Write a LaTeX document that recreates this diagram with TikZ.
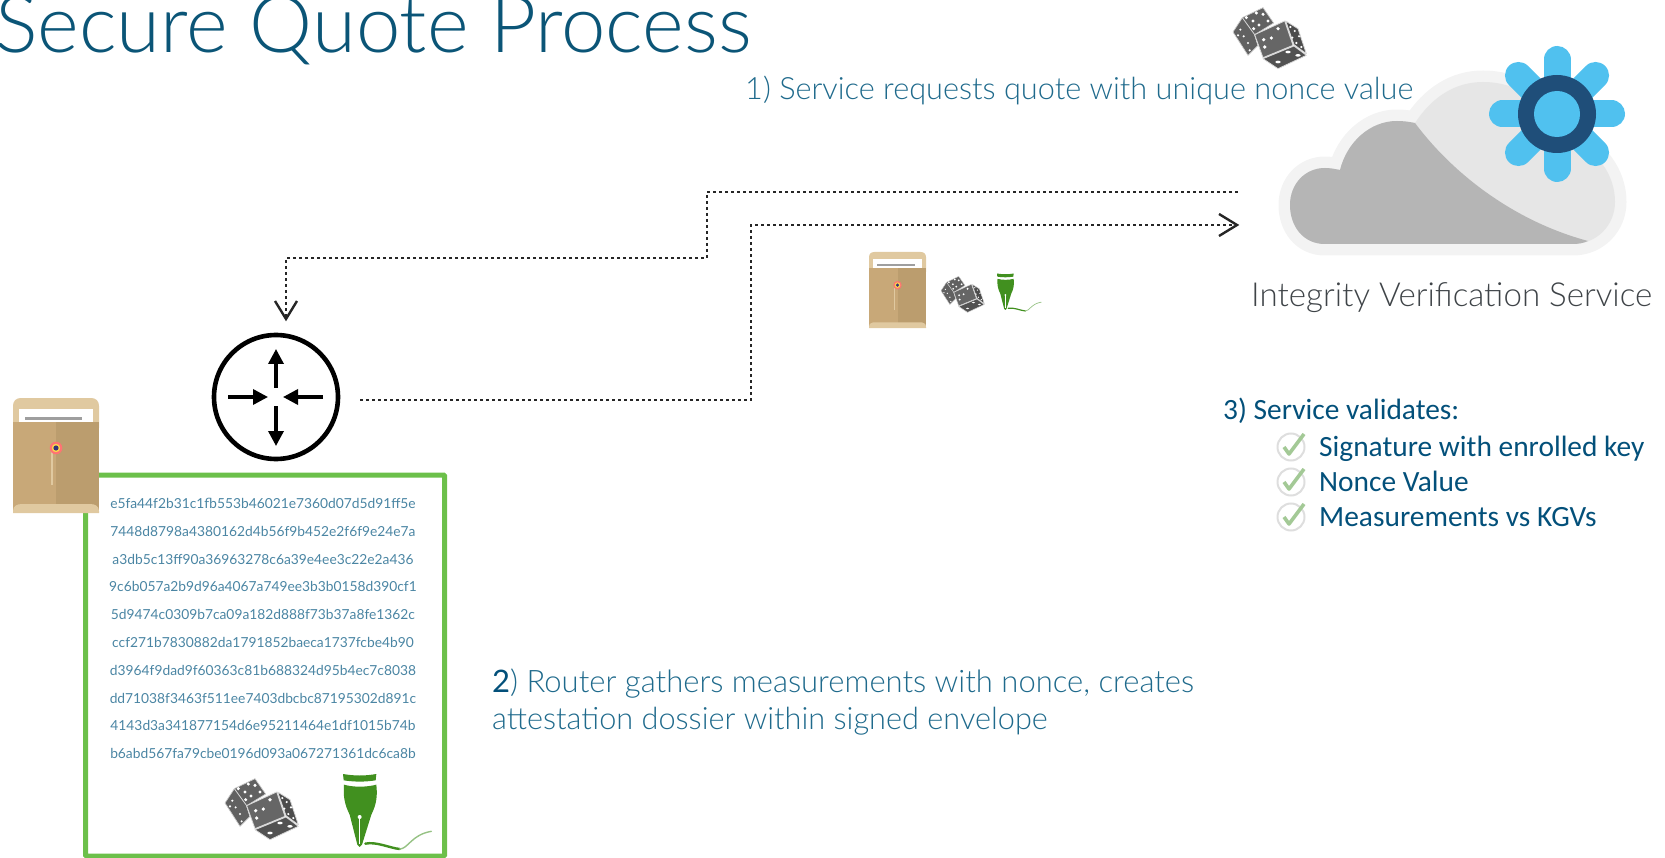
\documentclass[tikz,border=0pt]{standalone}
\usepackage{fontspec}
\usetikzlibrary{arrows.meta}
\newfontfamily\lightf{Lato Light}
\newfontfamily\regf{Lato}
\newfontfamily\calf{Carlito}
\definecolor{titleblue}{HTML}{0B5577}
\definecolor{stepblue}{HTML}{1F6A8C}
\definecolor{hexblue}{HTML}{4A85A3}
\definecolor{valblue}{HTML}{03507A}
\definecolor{greyt}{HTML}{3F4448}
\definecolor{boxgreen}{HTML}{6CC04A}
\definecolor{nibgreen}{HTML}{41901F}
\definecolor{cloudo}{HTML}{F3F3F3}
\definecolor{cloudm}{HTML}{E6E6E6}
\definecolor{cloudd}{HTML}{B5B5B5}
\definecolor{gearl}{HTML}{50C1EF}
\definecolor{geard}{HTML}{1F4E79}
\definecolor{envb}{HTML}{E0C9A0}
\definecolor{envl}{HTML}{C8A878}
\definecolor{envr}{HTML}{BB9D6E}
\definecolor{checkg}{HTML}{A3C996}
\tikzset{
  dotline/.style={draw=black!85,line width=2.8pt,dash pattern=on 2.8pt off 3.2pt},
  hextext/.style={font=\regf\fontsize{13.8}{16}\selectfont,text=hexblue,inner sep=0pt},
  steptext/.style={font=\lightf\fontsize{30.7}{37}\selectfont,text=stepblue,inner sep=0pt,anchor=base west},
  step2text/.style={font=\lightf\fontsize{31}{37}\selectfont,text=stepblue,inner sep=0pt,anchor=base west},
  valtext/.style={font=\calf\fontsize{29.4}{32}\selectfont,text=valblue,inner sep=0pt,anchor=base west},
}
\newcommand\dicepic[3]{%
 \begin{scope}[shift={(#1,#2)},scale=#3/3]
  \fill[black!62,draw=white!80!black,line width=#3*.7pt,line join=round] (0,75)--(28,32)--(90,2)--(122,48)--(65,83)--(75,115)--(45,145)--cycle;
  \draw[white!85!black,line width=#3*.8pt] (28,32)--(65,83) (65,83)--(75,115);
  \foreach \p/\q in {40/32,60/42,78/54,90/22,105/42,70/18,62/65}{\fill[white] (\p,\q) circle (5);}
  \foreach \p/\q in {22/68,32/88,45/108,15/85,50/130}{\fill[white] (\p,\q) circle (3.5);}
  \fill[black!60,draw=white!85!black,line width=#3*.8pt,line join=round] (65,83)--(155,42)--(180,115)--(90,152)--cycle;
  \fill[black!70,draw=white!85!black,line width=#3*.8pt,line join=round] (158,42)--(195,65)--(220,140)--(183,113)--cycle;
  \fill[black!68,draw=white!85!black,line width=#3*.8pt,line join=round] (90,155)--(183,117)--(220,145)--(135,185)--cycle;
  \foreach \p/\q in {92/98,115/93,135/65,95/120}{\fill[white] (\p,\q) circle (5.5);}
  \foreach \p/\q in {172/60,185/72,198/88,178/92,190/108,205/120}{\fill[white] (\p,\q) circle (3.5);}
  \foreach \p/\q in {165/135,135/165,195/145}{\fill[white] (\p,\q) ellipse (8 and 4);}
 \end{scope}}
\newcommand\nibpic[3]{%
 \begin{scope}[shift={(#1,#2)},scale=#3/3]
  \fill[nibgreen] (0,3) .. controls (35,9) and (65,9) .. (100,3) -- (98,22) .. controls (65,27) and (35,27) .. (2,22) -- cycle;
  \fill[nibgreen] (3,35) .. controls (30,43) and (70,43) .. (100,35) .. controls (104,70) and (100,95) .. (85,125) -- (57,215) -- (50,222) -- (43,215) -- (20,125) .. controls (5,95) and (0,70) .. (3,35) -- cycle;
  \fill[white] (50,132) circle (6);
  \draw[white,line width=#3*1pt] (50,132) -- (50,212);
  \draw[nibgreen,line width=#3*2.4pt,line cap=round] (67,212) .. controls (100,205) and (140,225) .. (170,228);
  \draw[nibgreen!55!white,line width=#3*1.4pt,line cap=round] (170,228) .. controls (195,228) and (205,185) .. (265,175);
 \end{scope}}
\newcommand\envpic[3]{%
 \begin{scope}[shift={(#1,#2)},scale=#3]
  \fill[envb] (0,30) -- (0,8) .. controls (0,3) and (3,0) .. (8,0) -- (78,0) .. controls (83,0) and (86,3) .. (86,8) -- (86,30) -- cycle;
  \fill[white] (6,11) rectangle (80,26);
  \fill[black!38] (12,18.5) rectangle (69,21.5);
  \fill[envl] (0,24) rectangle (43,115);
  \fill[envr] (43,24) rectangle (86,115);
  \fill[envb] (0,115) -- (0,113) .. controls (0,108) and (4,106) .. (9,106) -- (77,106) .. controls (82,106) and (86,108) .. (86,113) -- (86,115) -- cycle;
  \fill[envb] (37.5,54) rectangle (39.5,87);
  \fill[red!55!white] (43,50) circle (6.3);
  \fill[yellow!60!orange!70!white] (43,50) circle (4.2);
  \fill[black!55!blue!60!gray] (43,50) circle (2.6);
 \end{scope}}
\newcommand\checkpic[2]{%
 \begin{scope}[shift={(#1,#2)}]
  \draw[black!13,line width=2pt] (0,0) circle (13.5);
  \draw[checkg,line width=3.6pt,line join=round] (-7,0) -- (-2,7) -- (13,-13);
 \end{scope}}
\newcommand\cloudshape{(1325,244) .. controls (1303,244) and (1290,226) .. (1290,205) .. controls (1290,184) and (1305,168) .. (1325,168) .. controls (1330,168) and (1335,169) .. (1340,170) .. controls (1347,142) and (1370,121) .. (1397,121) .. controls (1404,121) and (1410,122) .. (1415,123) .. controls (1432,97) and (1455,82) .. (1483,82) .. controls (1520,82) and (1550,105) .. (1565,135) .. controls (1598,150) and (1615,175) .. (1615,202) .. controls (1615,225) and (1597,244) .. (1573,244) -- cycle}
\begin{document}
\begin{tikzpicture}[x=1pt,y=-1pt]
\useasboundingbox (0,0) rectangle (1665,858);
% title
\node[inner sep=0pt,anchor=base west,font=\lightf\fontsize{79.7}{90}\selectfont,text=titleblue] (title) at (-5,53) {Secure Quote Process};
% cloud
\draw[draw=cloudo,line width=23pt,line join=round] \cloudshape;
\fill[cloudm] \cloudshape;
\fill[cloudd] (1325,244) .. controls (1303,244) and (1290,226) .. (1290,205) .. controls (1290,184) and (1305,168) .. (1325,168) .. controls (1330,168) and (1335,169) .. (1340,170) .. controls (1347,142) and (1370,121) .. (1397,121) .. controls (1404,121) and (1410,122) .. (1415,123) .. controls (1450,170) and (1510,220) .. (1588,241) .. controls (1584,243) and (1578,244) .. (1573,244) -- cycle;
\coordinate (gearc) at (1557,114);
\foreach \a in {0,45,...,315}{\draw[gearl,line width=27pt,line cap=round] (gearc) -- ++(\a:54.5);}
\fill[geard] (gearc) circle (39);
\fill[gearl] (gearc) circle (23);
\coordinate (cloudout) at (1238,192);
\coordinate (cloudin) at (1238,225);
% dice top
\dicepic{1233}{7}{1}
% texts
\node[steptext] (s1) at (745,100) {1) Service requests quote with unique nonce value};
\node[inner sep=0pt,anchor=base west,font=\lightf\fontsize{33.1}{37}\selectfont,text=greyt] (ivs) at (1251,307) {Integrity Verification Service};
% router
\node[circle,draw=black,line width=4.6pt,minimum size=124pt,inner sep=0pt] (router) at (276,397) {};
\coordinate (routerout) at (360,400);
\coordinate (routerin) at (286,318);
\foreach \sx/\sy/\ex/\ey in {276/388/276/349,276/406/276/446,228/397/268/397,323/397/283/397}{
  \draw[black,line width=3.4pt,-{Triangle[length=15pt,width=15pt]}] (\sx,\sy) -- (\ex,\ey);}
% connectors
\coordinate (b1) at (707,192); \coordinate (b2) at (707,258); \coordinate (b3) at (286,258);
\coordinate (c1) at (751,400); \coordinate (c2) at (751,225);
\draw[dotline] (cloudout) -- (b1) -- (b2) -- (b3) -- (routerin);
\draw[dotline] (routerout) -- (c1) -- (c2) -- (cloudin);
\draw[black!85,line width=2.4pt,line join=miter] (275,301) -- (286,319) -- (297,301);
\draw[black!85,line width=2.4pt,line join=miter] (1219,214) -- (1237,225) -- (1219,236);
% mini items
\envpic{869}{252}{.663}
\dicepic{941}{276}{.59}
\nibpic{997}{273}{.5}
% green box
\node[draw=boxgreen,line width=5pt,rounded corners=1pt,inner sep=0pt,minimum width=359pt,minimum height=381pt] (box) at (265,665.5) {};
\envpic{13}{398}{1}
\foreach \i/\y/\t in {a/503/e5fa44f2b31c1fb553b46021e7360d07d5d91ff5e,b/531/7448d8798a4380162d4b56f9b452e2f6f9e24e7a,c/559/a3db5c13ff90a36963278c6a39e4ee3c22e2a436,d/586/9c6b057a2b9d96a4067a749ee3b3b0158d390cf1,e/614/5d9474c0309b7ca09a182d888f73b37a8fe1362c,f/642/ccf271b7830882da1791852baeca1737fcbe4b90,g/670/d3964f9dad9f60363c81b688324d95b4ec7c8038,h/698/dd71038f3463f511ee7403dbcbc87195302d891c,i/725/4143d3a341877154d6e95211464e1df1015b74b,j/753/b6abd567fa79cbe0196d093a067271361dc6ca8b}{
  \node[hextext] (hex\i) at (263,\y) {\t};}
\dicepic{225}{778}{1}
\nibpic{343}{773}{1}
% step 2
\node[step2text] (s2a) at (492,692) {{\regf\color{valblue}2}) Router gathers measurements with nonce, creates};
\node[steptext] (s2b) at (492,729) {attestation dossier within signed envelope};
% step 3
\node[valtext] (s3) at (1223,419) {3) Service validates:};
\checkpic{1291}{447}\checkpic{1291}{482}\checkpic{1291}{517}
\node[valtext] (v1) at (1319,456) {Signature with enrolled key};
\node[valtext] (v2) at (1319,491) {Nonce Value};
\node[valtext] (v3) at (1319,526) {Measurements vs KGVs};
\end{tikzpicture}
\end{document}
